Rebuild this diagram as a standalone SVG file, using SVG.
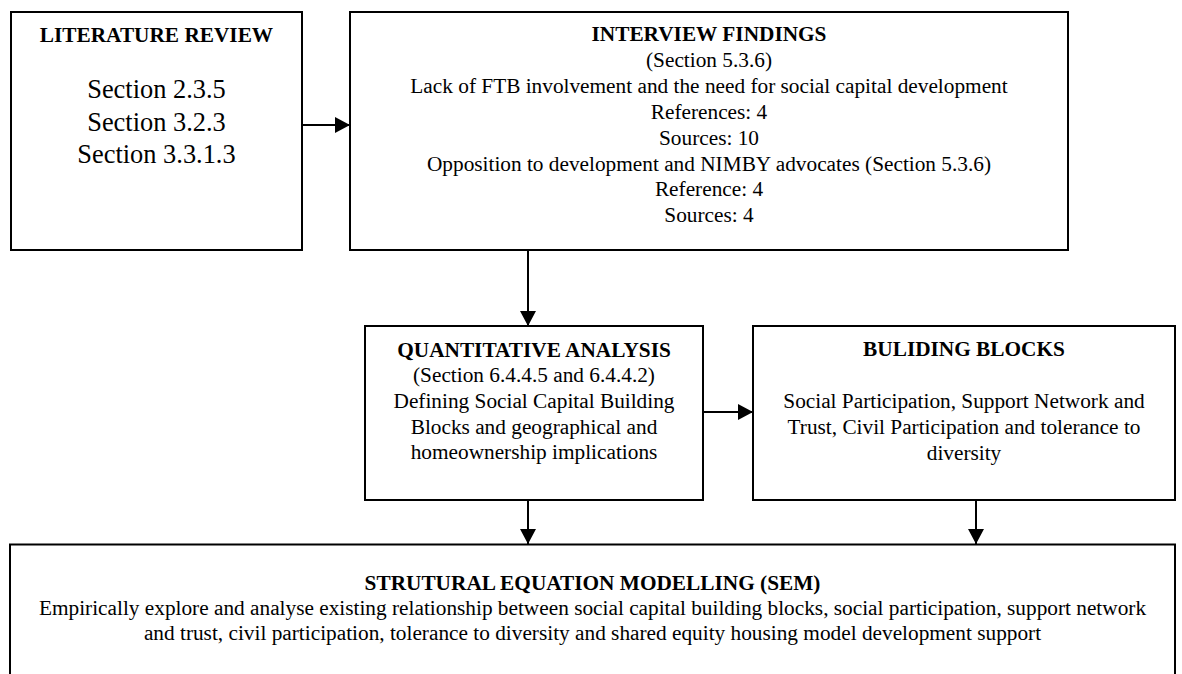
<svg xmlns="http://www.w3.org/2000/svg" width="1182" height="674" viewBox="0 0 1182 674">
  <style>
    .box { fill: #ffffff; stroke: #000000; stroke-width: 2; }
    .edge { fill: none; stroke: #000000; stroke-width: 2; }
    text { font-family: "Liberation Serif", "Times New Roman", serif; fill: #000000; text-anchor: middle; }
    .title { font-size: 21.3px; font-weight: bold; }
    .body { font-size: 21.3px; }
    .big { font-size: 26.4px; }
  </style>
  <defs>
    <marker id="arrow" markerUnits="userSpaceOnUse" markerWidth="16" markerHeight="16" refX="15" refY="8" orient="auto">
      <path d="M0,0 L15,8 L0,16 Z" fill="#000000"/>
    </marker>
  </defs>

  <rect width="1182" height="674" fill="#ffffff"/>

  <!-- connectors -->
  <g id="connectors">
    <line class="edge" x1="302" y1="125" x2="350" y2="125" marker-end="url(#arrow)"/>
    <line class="edge" x1="528" y1="250" x2="528" y2="326" marker-end="url(#arrow)"/>
    <line class="edge" x1="703" y1="412" x2="753" y2="412" marker-end="url(#arrow)"/>
    <line class="edge" x1="528" y1="500" x2="528" y2="544" marker-end="url(#arrow)"/>
    <line class="edge" x1="976" y1="500" x2="976" y2="544" marker-end="url(#arrow)"/>
  </g>

  <!-- literature review -->
  <g id="literature-review">
    <rect class="box" x="11" y="12" width="291" height="238"/>
    <text class="title" x="156.5" y="42">LITERATURE REVIEW</text>
    <text class="big" x="156.5" y="98">Section 2.3.5</text>
    <text class="big" x="156.5" y="130.5">Section 3.2.3</text>
    <text class="big" x="156.5" y="163">Section 3.3.1.3</text>
  </g>

  <!-- interview findings -->
  <g id="interview-findings">
    <rect class="box" x="350" y="12" width="718" height="238"/>
    <text class="title" x="709" y="41">INTERVIEW FINDINGS</text>
    <text class="body" x="709" y="67">(Section 5.3.6)</text>
    <text class="body" x="709" y="93">Lack of FTB involvement and the need for social capital development</text>
    <text class="body" x="709" y="119">References: 4</text>
    <text class="body" x="709" y="145">Sources: 10</text>
    <text class="body" x="709" y="171">Opposition to development and NIMBY advocates (Section 5.3.6)</text>
    <text class="body" x="709" y="196">Reference: 4</text>
    <text class="body" x="709" y="222">Sources: 4</text>
  </g>

  <!-- quantitative analysis -->
  <g id="quantitative-analysis">
    <rect class="box" x="365" y="326" width="338" height="174"/>
    <text class="title" x="534" y="356.5">QUANTITATIVE ANALYSIS</text>
    <text class="body" x="534" y="382">(Section 6.4.4.5 and 6.4.4.2)</text>
    <text class="body" x="534" y="407.5">Defining Social Capital Building</text>
    <text class="body" x="534" y="433.5">Blocks and geographical and</text>
    <text class="body" x="534" y="459">homeownership implications</text>
  </g>

  <!-- building blocks -->
  <g id="building-blocks">
    <rect class="box" x="753" y="326" width="422" height="174"/>
    <text class="title" x="964" y="356">BULIDING BLOCKS</text>
    <text class="body" x="964" y="408">Social Participation, Support Network and</text>
    <text class="body" x="964" y="434">Trust, Civil Participation and tolerance to</text>
    <text class="body" x="964" y="460">diversity</text>
  </g>

  <!-- structural equation modelling -->
  <g id="sem">
    <rect class="box" x="10" y="544.5" width="1165" height="160"/>
    <text class="title" x="592.5" y="590">STRUTURAL EQUATION MODELLING (SEM)</text>
    <text class="body" x="592.5" y="615">Empirically explore and analyse existing relationship between social capital building blocks, social participation, support network</text>
    <text class="body" x="592.5" y="640">and trust, civil participation, tolerance to diversity and shared equity housing model development support</text>
  </g>
</svg>
